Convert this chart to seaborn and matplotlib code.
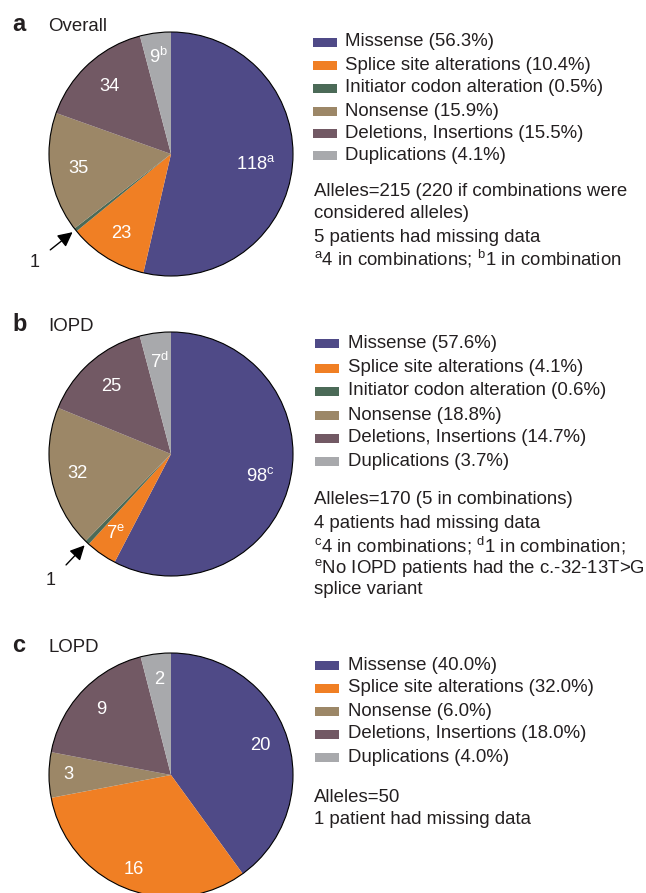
import matplotlib
matplotlib.use("Agg")
import matplotlib.pyplot as plt
import seaborn as sns
import numpy as np
from matplotlib.patches import Circle, Rectangle

# ---------------- data ----------------
categories = ["Missense", "Splice site alterations", "Initiator codon alteration",
              "Nonsense", "Deletions, Insertions", "Duplications"]
overall_counts = [118, 23, 1, 35, 34, 9]
overall_pct = [56.3, 10.4, 0.5, 15.9, 15.5, 4.1]
overall_labels = ["118$^{\\mathrm{a}}$", "23", "", "35", "34", "9$^{\\mathrm{b}}$"]
overall_notes = ["Alleles=215 (220 if combinations were",
                 "considered alleles)",
                 "5 patients had missing data",
                 "$^{\\mathrm{a}}$4 in combinations; $^{\\mathrm{b}}$1 in combination"]

iopd_counts = [98, 7, 1, 32, 25, 7]
iopd_pct = [57.6, 4.1, 0.6, 18.8, 14.7, 3.7]
iopd_labels = ["98$^{\\mathrm{c}}$", "7$^{\\mathrm{e}}$", "", "32", "25", "7$^{\\mathrm{d}}$"]
iopd_notes = ["Alleles=170 (5 in combinations)",
              "4 patients had missing data",
              "$^{\\mathrm{c}}$4 in combinations; $^{\\mathrm{d}}$1 in combination;",
              "$^{\\mathrm{e}}$No IOPD patients had the c.-32-13T>G",
              "splice variant"]

lopd_categories = ["Missense", "Splice site alterations", "Nonsense",
                   "Deletions, Insertions", "Duplications"]
lopd_counts = [20, 16, 3, 9, 2]
lopd_pct = [40.0, 32.0, 6.0, 18.0, 4.0]
lopd_labels = ["20", "16", "3", "9", "2"]
lopd_notes = ["Alleles=50", "1 patient had missing data"]

# ---------------- style ----------------
sns.set_theme(style="white")
plt.rcParams["font.family"] = ["Liberation Sans", "DejaVu Sans"]
plt.rcParams["mathtext.fontset"] = "custom"
plt.rcParams["mathtext.rm"] = "Liberation Sans"
plt.rcParams["mathtext.it"] = "Liberation Sans:italic"
plt.rcParams["mathtext.bf"] = "Liberation Sans:bold"

pal = dict(zip(categories, sns.color_palette(
    ["#4f4a87", "#f07f24", "#4b6a57", "#9c8767", "#725964", "#a8a9ac"])))
TXT = "#231f20"
FS = 13.4

W, H = 646, 893
fig = plt.figure(figsize=(W / 100, H / 100), dpi=100)
fig.patch.set_facecolor("white")
R = 122.0
CX = 171.0


def fx(x):
    return x / W


def fy(y):
    return 1 - y / H


def draw_pie(cy, cats, counts, labels, label_r, arrow_idx=None, arrow_text=None):
    ax = fig.add_axes([0, fy(cy + 170), 300 / W, 340 / H])
    wedges, _ = ax.pie(counts, colors=[pal[c] for c in cats], startangle=90,
                       counterclock=False, radius=1,
                       wedgeprops=dict(linewidth=0, edgecolor="none"))
    ax.add_patch(Circle((0, 0), 1, fill=False, ec="black", lw=0.8))
    for w, lab, r in zip(wedges, labels, label_r):
        if not lab:
            continue
        a = np.deg2rad((w.theta1 + w.theta2) / 2)
        ax.text(r * np.cos(a), r * np.sin(a), lab, color="white",
                ha="center", va="center", fontsize=13.2)
    if arrow_idx is not None:
        w = wedges[arrow_idx]
        a = np.deg2rad((w.theta1 + w.theta2) / 2)
        d = np.array([np.cos(a), np.sin(a)])
        ax.annotate(arrow_text, xy=tuple(1.03 * d), xytext=tuple(1.43 * d),
                    ha="center", va="center", fontsize=13, color=TXT,
                    arrowprops=dict(arrowstyle="-|>", color="black", lw=1,
                                    shrinkA=7, shrinkB=0, mutation_scale=22))
    ax.set_aspect("auto")
    ax.set_xlim(-CX / R, (300 - CX) / R)
    ax.set_ylim(-170 / R, 170 / R)
    ax.axis("off")
    return ax


def draw_legend(cats, pcts, row_y, px0, tx0):
    for c, p, y in zip(cats, pcts, row_y):
        fig.add_artist(Rectangle((fx(px0), fy(y + 4.5)), 24 / W, 9 / H,
                                 transform=fig.transFigure,
                                 facecolor=pal[c], edgecolor="none"))
        fig.text(fx(tx0), fy(y), f"{c} ({p:.1f}%)", ha="left", va="center",
                 fontsize=FS, color=TXT)


def draw_notes(lines, ys, x0):
    for t, y in zip(lines, ys):
        fig.text(fx(x0), fy(y), t, ha="left", va="center", fontsize=FS, color=TXT)


def panel_title(letter, name, base_y):
    fig.text(fx(12), fy(base_y), letter, ha="left", va="baseline",
             fontsize=17, fontweight="bold", color=TXT)
    fig.text(fx(48), fy(base_y), name, ha="left", va="baseline",
             fontsize=FS, color=TXT)


# Panel a
panel_title("a", "Overall", 31)
draw_pie(154, categories, overall_counts, overall_labels,
         [0.70, 0.77, 0, 0.77, 0.75, 0.80], arrow_idx=2, arrow_text="1")
draw_legend(categories, overall_pct, [42, 65, 88, 111, 133, 156], 313, 345)
draw_notes(overall_notes, [192, 214, 237, 259], 314)

# Panel b
panel_title("b", "IOPD", 331)
draw_pie(454, categories, iopd_counts, iopd_labels,
         [0.75, 0.79, 0, 0.78, 0.74, 0.76], arrow_idx=2, arrow_text="1")
draw_legend(categories, iopd_pct, [344, 368, 391, 415, 438, 462], 315, 348)
draw_notes(iopd_notes, [500, 523, 546, 568, 589], 314)

# Panel c
panel_title("c", "LOPD", 652)
draw_pie(775, lopd_categories, lopd_counts, lopd_labels,
         [0.77, 0.83, 0.84, 0.78, 0.79])
draw_legend(lopd_categories, lopd_pct, [665, 688, 711, 734, 757], 315, 348)
draw_notes(lopd_notes, [797, 819], 314)

fig.savefig("out.png", dpi=100, facecolor="white")
